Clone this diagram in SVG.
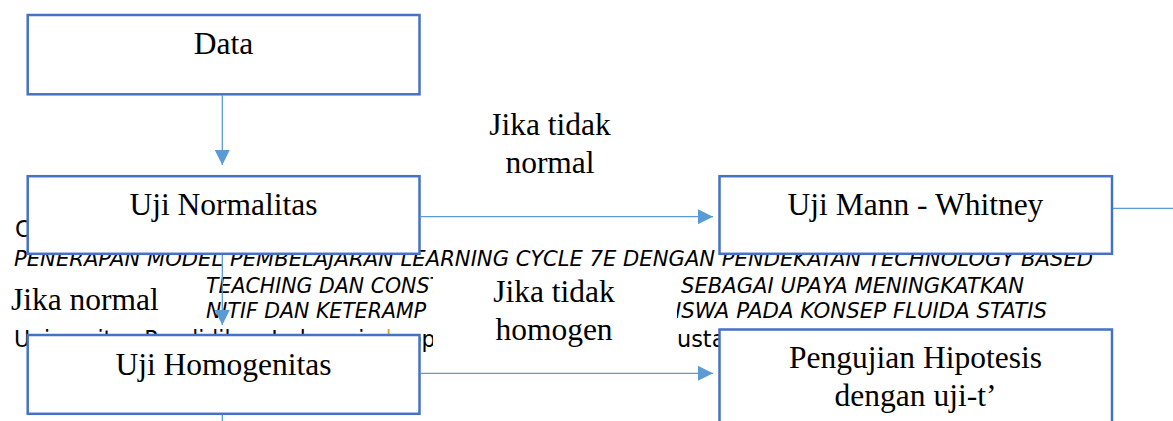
<svg xmlns="http://www.w3.org/2000/svg" width="1173" height="421" viewBox="0 0 1173 421">
<style>
.box{fill:#fff;stroke:#4472C4;stroke-width:2.5}
.lbl{font-family:"Liberation Serif","Times New Roman",serif;font-size:31.5px;fill:#000}
.c{text-anchor:middle}
.conn{stroke:#5B9BD5;stroke-width:1.3;fill:none}
.hdr{font-family:"DejaVu Sans",Verdana,sans-serif;font-style:italic;font-size:20.5px;fill:#000}
.ftr{font-family:"DejaVu Sans",Verdana,sans-serif;font-size:22.4px;fill:#000}
.bg{fill:#fff}
</style>
<defs>
<marker id="ah" markerUnits="userSpaceOnUse" markerWidth="15" markerHeight="15" refX="15" refY="7.5" orient="auto"><path d="M0,0 L15,7.5 L0,15 z" fill="#5B9BD5"/></marker>
<clipPath id="ftrclip"><rect x="0" y="300" width="433" height="80"/></clipPath>
</defs>
<rect x="0" y="0" width="1173" height="421" fill="#fff"/>
<g id="background-text">
<text class="ftr" x="15" y="237">C</text>
<text class="hdr" x="14" y="265.5" textLength="1079" lengthAdjust="spacingAndGlyphs">PENERAPAN MODEL PEMBELAJARAN LEARNING CYCLE 7E DENGAN PENDEKATAN TECHNOLOGY BASED</text>
<text class="hdr" x="206" y="292.5">TEACHING DAN CONST</text>
<text class="hdr" x="681" y="292.5" textLength="343" lengthAdjust="spacingAndGlyphs">SEBAGAI UPAYA MENINGKATKAN</text>
<text class="hdr" x="206" y="317.5">NITIF DAN KETERAMP</text>
<text class="hdr" x="675" y="318" textLength="372" lengthAdjust="spacingAndGlyphs">ISWA PADA KONSEP FLUIDA STATIS</text>
<text class="ftr" x="14" y="347" textLength="435" lengthAdjust="spacingAndGlyphs" clip-path="url(#ftrclip)">Universitas Pendidikan Indonesia <tspan fill="#F0A01E">|</tspan> repo</text>
<text class="ftr" x="677" y="347">usta</text>
</g>
<g id="label-tidak-normal">
<text class="lbl c" x="550" y="135">Jika tidak</text>
<text class="lbl c" x="550" y="173">normal</text>
</g>
<g id="label-normal">
<rect class="bg" x="0" y="266.5" width="205" height="62.5"/>
<text class="lbl" x="11" y="310">Jika normal</text>
</g>
<g id="label-tidak-homogen">
<rect class="bg" x="433" y="266.5" width="244" height="88"/>
<text class="lbl c" x="554" y="301.5">Jika tidak</text>
<text class="lbl c" x="554" y="340">homogen</text>
</g>
<g id="connectors">
<line class="conn" x1="222.3" y1="95.5" x2="222.3" y2="165" marker-end="url(#ah)"/>
<line class="conn" x1="421" y1="216.7" x2="713" y2="216.7" marker-end="url(#ah)"/>
<line class="conn" x1="222.3" y1="255" x2="222.3" y2="325" marker-end="url(#ah)"/>
<line class="conn" x1="421" y1="373.3" x2="713" y2="373.3" marker-end="url(#ah)"/>
<line class="conn" x1="1113" y1="208.3" x2="1173" y2="208.3"/>
<line class="conn" x1="222.3" y1="415" x2="222.3" y2="425"/>
</g>
<g id="node-data">
<rect class="box" x="27.7" y="15" width="391.8" height="79.3"/>
<text class="lbl c" x="223.5" y="53.5">Data</text>
</g>
<g id="node-normalitas">
<rect class="box" x="27.7" y="176.2" width="391.8" height="77.6"/>
<text class="lbl c" x="223.5" y="215">Uji Normalitas</text>
</g>
<g id="node-mann-whitney">
<rect class="box" x="719.5" y="176.2" width="392.5" height="77.6"/>
<text class="lbl c" x="915.5" y="215">Uji Mann - Whitney</text>
</g>
<g id="node-homogenitas">
<rect class="box" x="27.7" y="335" width="391.8" height="78.8"/>
<text class="lbl c" x="223.5" y="375">Uji Homogenitas</text>
</g>
<g id="node-hipotesis">
<rect class="box" x="719.5" y="329.5" width="392.5" height="100"/>
<text class="lbl c" x="915.5" y="368">Pengujian Hipotesis</text>
<text class="lbl c" x="915.5" y="406">dengan uji-t’</text>
</g>
</svg>
